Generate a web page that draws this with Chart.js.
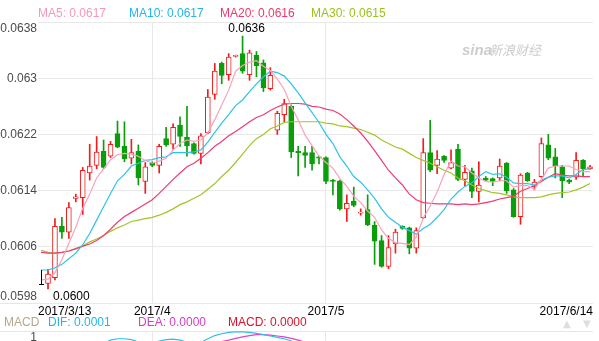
<!DOCTYPE html>
<html>
<head>
<meta charset="utf-8">
<script src="https://cdn.jsdelivr.net/npm/chart.js@4.4.0/dist/chart.umd.min.js"></script>
<style>
  html, body { margin: 0; padding: 0; background: #fff; overflow: hidden; }
  #wrap { position: relative; width: 599px; height: 341px; overflow: hidden; }
  #kline { position: absolute; left: 0; top: 0; }
  #macd { position: absolute; left: 0; top: 316px; }
</style>
</head>
<body>
<div id="wrap">
  <canvas id="kline" width="599" height="316"></canvas>
  <canvas id="macd" width="599" height="120"></canvas>
</div>
<script>
// daily candles, 2017/3/13 .. 2017/6/14 (index 0..78)
const openP = [0.06008,0.06016,0.06089,0.06081,0.06129,0.06130,0.06165,0.06176,0.06196,0.06189,
  0.06221,0.06203,0.06186,0.06196,0.06153,0.06179,0.06176,0.06214,0.06206,0.06233,
  0.06216,0.06207,0.06193,0.06222,0.06277,0.06321,0.06305,0.06331,0.06335,0.06305,
  0.06333,0.06322,0.06285,0.06226,0.06248,0.06260,0.06196,0.06194,0.06194,0.06188,
  0.06187,0.06155,0.06154,0.06114,0.06125,0.06108,0.06113,0.06091,0.06069,0.06032,
  0.06064,0.06089,0.06087,0.06058,0.06101,0.06194,0.06176,0.06189,0.06172,0.06199,
  0.06156,0.06168,0.06139,0.06158,0.06157,0.06158,0.06179,0.06141,0.06103,0.06165,
  0.06146,0.06160,0.06205,0.06188,0.06174,0.06155,0.06159,0.06183,0.06171];
const highP = [0.06028,0.06100,0.06102,0.06123,0.06135,0.06173,0.06206,0.06217,0.06212,0.06210,
  0.06239,0.06238,0.06213,0.06205,0.06180,0.06181,0.06206,0.06230,0.06235,0.06245,
  0.06260,0.06208,0.06221,0.06284,0.06321,0.06323,0.06335,0.06333,0.06360,0.06340,
  0.06338,0.06326,0.06315,0.06253,0.06270,0.06262,0.06203,0.06203,0.06203,0.06189,
  0.06188,0.06156,0.06155,0.06134,0.06145,0.06114,0.06134,0.06096,0.06076,0.06076,
  0.06085,0.06090,0.06088,0.06087,0.06214,0.06240,0.06197,0.06190,0.06198,0.06206,
  0.06176,0.06172,0.06181,0.06160,0.06158,0.06185,0.06180,0.06143,0.06164,0.06166,
  0.06156,0.06215,0.06220,0.06200,0.06176,0.06156,0.06194,0.06184,0.06176];
const lowP = [0.06000,0.06013,0.06072,0.06072,0.06124,0.06106,0.06155,0.06171,0.06171,0.06187,
  0.06201,0.06181,0.06178,0.06148,0.06136,0.06174,0.06165,0.06203,0.06199,0.06203,
  0.06189,0.06192,0.06178,0.06221,0.06270,0.06292,0.06297,0.06330,0.06307,0.06297,
  0.06302,0.06281,0.06283,0.06220,0.06238,0.06187,0.06161,0.06173,0.06169,0.06178,
  0.06150,0.06134,0.06112,0.06096,0.06117,0.06105,0.06090,0.06035,0.06031,0.06029,
  0.06051,0.06085,0.06050,0.06051,0.06100,0.06167,0.06164,0.06180,0.06171,0.06154,
  0.06147,0.06130,0.06124,0.06154,0.06147,0.06154,0.06136,0.06102,0.06092,0.06153,
  0.06141,0.06159,0.06184,0.06158,0.06130,0.06150,0.06156,0.06161,0.06170];
const closeP = [0.06021,0.06089,0.06081,0.06116,0.06131,0.06169,0.06175,0.06195,0.06173,0.06206,
  0.06202,0.06185,0.06194,0.06158,0.06174,0.06176,0.06203,0.06205,0.06230,0.06217,
  0.06204,0.06193,0.06218,0.06273,0.06310,0.06304,0.06330,0.06332,0.06310,0.06336,
  0.06318,0.06286,0.06304,0.06250,0.06264,0.06195,0.06194,0.06190,0.06178,0.06186,
  0.06153,0.06153,0.06114,0.06122,0.06119,0.06109,0.06091,0.06068,0.06032,0.06059,
  0.06081,0.06086,0.06058,0.06083,0.06194,0.06169,0.06185,0.06183,0.06180,0.06156,
  0.06166,0.06139,0.06148,0.06155,0.06153,0.06175,0.06140,0.06103,0.06162,0.06154,
  0.06152,0.06207,0.06186,0.06175,0.06154,0.06152,0.06183,0.06171,0.06174];

// moving averages, one extra point on the left (index -1 .. 78)
const ma5 = [0.06013,0.06014,0.06023,0.06042,0.06065,0.06088,0.06115,0.06135,0.06158,0.06171,
  0.06184,0.06191,0.06193,0.06192,0.06189,0.06183,0.06179,0.06182,0.06186,0.06198,
  0.06207,0.06212,0.06210,0.06212,0.06222,0.06241,0.06262,0.06283,0.06310,0.06318,
  0.06323,0.06325,0.06317,0.06311,0.06299,0.06284,0.06260,0.06241,0.06219,0.06204,
  0.06189,0.06180,0.06172,0.06157,0.06146,0.06132,0.06123,0.06111,0.06102,0.06084,
  0.06072,0.06066,0.06065,0.06063,0.06074,0.06101,0.06118,0.06138,0.06163,0.06182,
  0.06175,0.06174,0.06165,0.06158,0.06153,0.06152,0.06154,0.06154,0.06145,0.06147,
  0.06147,0.06142,0.06156,0.06172,0.06175,0.06175,0.06175,0.06170,0.06167,0.06167];
const ma10 = [0.06027,0.06027,0.06030,0.06035,0.06043,0.06051,0.06063,0.06079,0.06098,0.06117,
  0.06136,0.06154,0.06163,0.06175,0.06179,0.06183,0.06184,0.06187,0.06188,0.06194,
  0.06194,0.06194,0.06195,0.06198,0.06209,0.06223,0.06236,0.06248,0.06261,0.06269,
  0.06281,0.06292,0.06302,0.06310,0.06308,0.06303,0.06292,0.06279,0.06265,0.06251,
  0.06237,0.06220,0.06207,0.06188,0.06175,0.06160,0.06152,0.06141,0.06129,0.06114,
  0.06102,0.06095,0.06088,0.06083,0.06078,0.06086,0.06092,0.06102,0.06113,0.06128,
  0.06138,0.06146,0.06151,0.06160,0.06167,0.06163,0.06164,0.06159,0.06151,0.06150,
  0.06150,0.06148,0.06155,0.06159,0.06161,0.06161,0.06158,0.06163,0.06170,0.06171];
const ma20 = [0.06052,0.06051,0.06051,0.06052,0.06054,0.06057,0.06061,0.06064,0.06069,0.06076,
  0.06085,0.06095,0.06103,0.06109,0.06115,0.06121,0.06127,0.06136,0.06146,0.06156,
  0.06165,0.06174,0.06179,0.06186,0.06194,0.06203,0.06210,0.06218,0.06224,0.06231,
  0.06238,0.06244,0.06248,0.06254,0.06259,0.06263,0.06264,0.06264,0.06263,0.06260,
  0.06259,0.06256,0.06254,0.06249,0.06241,0.06232,0.06222,0.06210,0.06197,0.06183,
  0.06169,0.06158,0.06148,0.06135,0.06127,0.06123,0.06122,0.06121,0.06121,0.06121,
  0.06120,0.06121,0.06120,0.06121,0.06123,0.06125,0.06128,0.06130,0.06132,0.06139,
  0.06143,0.06147,0.06153,0.06159,0.06164,0.06162,0.06161,0.06161,0.06160,0.06160];
const ma30 = [0.06055,0.06052,0.06051,0.06052,0.06054,0.06058,0.06061,0.06067,0.06071,0.06076,
  0.06082,0.06087,0.06091,0.06096,0.06098,0.06100,0.06102,0.06105,0.06109,0.06114,
  0.06120,0.06124,0.06129,0.06134,0.06142,0.06150,0.06160,0.06169,0.06180,0.06192,
  0.06204,0.06214,0.06220,0.06228,0.06232,0.06237,0.06238,0.06238,0.06238,0.06238,
  0.06238,0.06236,0.06235,0.06232,0.06231,0.06229,0.06227,0.06223,0.06219,0.06212,
  0.06207,0.06202,0.06199,0.06193,0.06187,0.06183,0.06179,0.06174,0.06169,0.06165,
  0.06158,0.06154,0.06148,0.06143,0.06140,0.06137,0.06136,0.06134,0.06131,0.06130,
  0.06130,0.06130,0.06131,0.06134,0.06136,0.06137,0.06138,0.06141,0.06145,0.06150];

// MACD panel, in units of 0.0001 (index -1 .. 78)
const dif = [-0.90,-0.85,-0.70,-0.55,-0.35,-0.10,0.15,0.40,0.60,0.72,
  0.80,0.83,0.83,0.81,0.76,0.72,0.73,0.78,0.81,0.82,
  0.80,0.75,0.72,0.75,0.83,0.90,0.94,0.97,0.98,0.98,
  0.97,0.95,0.92,0.89,0.86,0.83,0.78,0.70,0.60,0.48,
  0.35,0.20,0.05,-0.12,-0.28,-0.42,-0.55,-0.68,-0.82,-0.98,
  -1.08,-1.12,-1.13,-1.14,-1.10,-0.95,-0.80,-0.65,-0.50,-0.36,
  -0.27,-0.20,-0.15,-0.10,-0.06,-0.03,0.00,0.02,-0.02,0.00,
  0.02,0.03,0.12,0.20,0.27,0.30,0.33,0.40,0.48,0.55];
const dea = [-0.60,-0.65,-0.66,-0.64,-0.58,-0.49,-0.36,-0.20,-0.04,0.11,
  0.25,0.37,0.46,0.53,0.58,0.61,0.63,0.66,0.68,0.70,
  0.71,0.71,0.71,0.72,0.73,0.75,0.77,0.80,0.84,0.87,
  0.90,0.92,0.92,0.91,0.89,0.87,0.84,0.80,0.75,0.69,
  0.62,0.54,0.44,0.33,0.21,0.08,-0.05,-0.18,-0.31,-0.44,
  -0.57,-0.68,-0.77,-0.85,-0.90,-0.91,-0.89,-0.84,-0.77,-0.69,
  -0.60,-0.52,-0.45,-0.38,-0.32,-0.26,-0.21,-0.16,-0.13,-0.10,
  -0.08,-0.05,-0.02,0.02,0.07,0.11,0.16,0.20,0.26,0.32];
const macdNow = 0.46;

const xTickIdx = [0, 15, 40, 78];
const xTickText = ['2017/3/13', '2017/4', '2017/5', '2017/6/14'];
const yTicks = [0.0598, 0.0606, 0.0614, 0.0622, 0.063, 0.0638];
const xMin = -1.44, xMax = 78.43;

const fam = 'Arial, "Liberation Sans", sans-serif';
Chart.defaults.font.family = fam;
Chart.defaults.font.size = 12;

const red = '#f21c1c', green = '#0a9e0a';
const maNames = ['MA5', 'MA10', 'MA20', 'MA30'];
const maSeries = [ma5, ma10, ma20, ma30];
const maLine = ['#f8a2bc', '#2cc3e7', '#ee3c72', '#a2c52a'];
const maText = ['#f59ab4', '#22b7e6', '#f0386b', '#9cc21c'];

const idx = closeP.map((_, i) => i);
const isUp = i => closeP[i] >= openP[i];
const pts = arr => arr.map((v, i) => ({ x: i - 1, y: v }));

function buildXTicks(s) {
  const n = xTickIdx.length;
  s.ticks = xTickIdx.map((v, i) => ({ value: i === 0 ? s.min : (i === n - 1 ? s.max : v) }));
}
const xGridColor = c => (c.index === 0 || c.index === xTickIdx.length - 1) ? 'rgba(0,0,0,0)' : '#e8e8e8';

const kPaint = {
  id: 'kPaint',
  afterDraw(chart) {
    const { ctx, chartArea: a, scales: { x, y } } = chart;
    ctx.save();
    // x axis line runs under the y labels too
    const by = Math.round(a.bottom - 0.5) + 0.5;
    ctx.strokeStyle = '#e6e6e6';
    ctx.lineWidth = 1;
    ctx.beginPath(); ctx.moveTo(0, by); ctx.lineTo(a.left, by); ctx.stroke();

    // legend
    ctx.font = '12px ' + fam;
    ctx.textAlign = 'left';
    ctx.textBaseline = 'middle';
    maNames.forEach((n, k) => {
      const s = maSeries[k];
      ctx.fillStyle = maText[k];
      ctx.fillText(n + ': ' + s[s.length - 1].toFixed(4), a.left + k * 91, 14);
    });

    // y labels, kept inside the plot at both ends
    ctx.fillStyle = '#4a4a4a';
    ctx.textAlign = 'right';
    yTicks.forEach(v => {
      const py = y.getPixelForValue(v);
      if (py - a.top < 6) { ctx.textBaseline = 'top'; ctx.fillText(String(v), a.left - 1, py + 1); }
      else if (a.bottom - py < 6) { ctx.textBaseline = 'alphabetic'; ctx.fillText(String(v), a.left - 1, py - 3); }
      else { ctx.textBaseline = 'middle'; ctx.fillText(String(v), a.left - 1, py); }
    });

    // highest / lowest marks
    let hi = 0, lo = 0;
    idx.forEach(i => { if (highP[i] > highP[hi]) hi = i; if (lowP[i] < lowP[lo]) lo = i; });
    ctx.fillStyle = '#000';
    ctx.textAlign = 'center';
    ctx.textBaseline = 'alphabetic';
    ctx.fillText(highP[hi].toFixed(4), x.getPixelForValue(hi) + 4, y.getPixelForValue(highP[hi]) - 4);
    const lx = x.getPixelForValue(lo), ly = y.getPixelForValue(lowP[lo]);
    ctx.textAlign = 'left';
    ctx.fillText(lowP[lo].toFixed(4), lx + 5, ly + 11);
    ctx.strokeStyle = '#000';
    ctx.beginPath();
    ctx.moveTo(Math.round(lx - 7) + 0.5, ly - 19); ctx.lineTo(Math.round(lx - 7) + 0.5, ly - 4);
    ctx.moveTo(lx - 9, Math.round(ly - 5) + 0.5); ctx.lineTo(lx - 4, Math.round(ly - 5) + 0.5);
    ctx.stroke();

    // watermark
    ctx.fillStyle = '#cdcdcd';
    ctx.textAlign = 'left';
    ctx.font = 'italic bold 15px ' + fam;
    ctx.fillText('sina', 462, 55);
    ctx.font = 'italic 13px "Noto Sans CJK SC", sans-serif';
    ctx.fillText('新浪财经', 489, 55);
    ctx.restore();
  }
};

new Chart(document.getElementById('kline'), {
  type: 'bar',
  data: {
    datasets: [
      {
        type: 'line', data: pts(ma5), borderColor: maLine[0], borderWidth: 1.2,
        pointRadius: 0, order: 0
      },
      {
        type: 'line', data: pts(ma10), borderColor: maLine[1], borderWidth: 1.2,
        pointRadius: 0, order: 0
      },
      {
        type: 'line', data: pts(ma20), borderColor: maLine[2], borderWidth: 1.2,
        pointRadius: 0, order: 0
      },
      {
        type: 'line', data: pts(ma30), borderColor: maLine[3], borderWidth: 1.2,
        pointRadius: 0, order: 0
      },
      {
        // bodies
        data: idx.map(i => ({ x: i, y: [Math.min(openP[i], closeP[i]), Math.max(openP[i], closeP[i])] })),
        backgroundColor: idx.map(i => isUp(i) ? '#ffffff' : green),
        borderColor: idx.map(i => isUp(i) ? red : green),
        borderWidth: 1, borderSkipped: false, barThickness: 5, minBarLength: 1,
        grouped: false, order: 1
      },
      {
        // wicks
        data: idx.map(i => ({ x: i, y: [lowP[i], highP[i]] })),
        backgroundColor: idx.map(i => isUp(i) ? red : green),
        borderWidth: 0, barThickness: 1, grouped: false, order: 2
      }
    ]
  },
  options: {
    responsive: false,
    animation: false,
    devicePixelRatio: 1,
    layout: { padding: { top: 22, right: 6, left: 0, bottom: 0 } },
    plugins: { legend: { display: false }, tooltip: { enabled: false } },
    scales: {
      x: {
        type: 'linear', min: xMin, max: xMax, offset: false,
        afterBuildTicks: buildXTicks,
        afterFit: s => { s.height = 13; },
        ticks: {
          autoSkip: false, maxRotation: 0, align: 'inner', padding: 1, color: '#000',
          callback: (v, i) => xTickText[i]
        },
        grid: { drawTicks: false, offset: false, color: xGridColor },
        border: { display: false }
      },
      y: {
        min: 0.0598, max: 0.0638,
        afterBuildTicks: s => { s.ticks = yTicks.map(v => ({ value: v })); },
        afterFit: s => { s.width = 38; },
        ticks: { display: false },
        grid: { drawTicks: false, color: '#e9e9e9' },
        border: { display: false }
      }
    }
  },
  plugins: [kPaint]
});

const macdPaint = {
  id: 'macdPaint',
  afterDraw(chart) {
    const { ctx, chartArea: a, scales: { y } } = chart;
    ctx.save();
    const ty = Math.round(y.getPixelForValue(1) - 0.5) + 0.5;
    ctx.strokeStyle = '#e6e6e6';
    ctx.beginPath(); ctx.moveTo(0, ty); ctx.lineTo(a.left, ty); ctx.stroke();

    ctx.font = '12px ' + fam;
    ctx.textBaseline = 'middle';
    ctx.textAlign = 'left';
    const head = [
      ['MACD', '#b4a68e'],
      ['DIF: ' + (dif[dif.length - 1] / 10000).toFixed(4), '#22b7e6'],
      ['DEA: ' + (dea[dea.length - 1] / 10000).toFixed(4), '#d63cc4'],
      ['MACD: ' + (macdNow / 10000).toFixed(4), '#e0102a']
    ];
    ctx.fillStyle = head[0][1];
    ctx.fillText(head[0][0], 4, 7);
    for (let k = 1; k < head.length; k++) {
      ctx.fillStyle = head[k][1];
      ctx.fillText(head[k][0], 48 + (k - 1) * 90, 7);
    }

    ctx.fillStyle = '#4a4a4a';
    ctx.textAlign = 'right';
    ctx.textBaseline = 'top';
    ctx.fillText('1', a.left - 1, y.getPixelForValue(1) + 1);

    ctx.fillStyle = '#dedede';
    ctx.font = '10px "DejaVu Sans", sans-serif';
    ctx.textAlign = 'left';
    ctx.textBaseline = 'middle';
    ctx.fillText('▲', 563, 8);
    ctx.fillText('▼', 583, 8);
    ctx.restore();
  }
};

new Chart(document.getElementById('macd'), {
  type: 'line',
  data: {
    datasets: [
      { data: pts(dif), borderColor: '#2dbfe9', borderWidth: 1.2, pointRadius: 0 },
      { data: pts(dea), borderColor: '#dc45c8', borderWidth: 1.2, pointRadius: 0 }
    ]
  },
  options: {
    responsive: false,
    animation: false,
    devicePixelRatio: 1,
    layout: { padding: { top: 15, right: 6, left: 0, bottom: 0 } },
    plugins: { legend: { display: false }, tooltip: { enabled: false } },
    scales: {
      x: {
        type: 'linear', min: xMin, max: xMax, offset: false,
        afterBuildTicks: buildXTicks,
        afterFit: s => { s.height = 0; },
        ticks: { display: false },
        grid: { drawTicks: false, offset: false, color: xGridColor },
        border: { display: false }
      },
      y: {
        min: -1.3, max: 1,
        afterBuildTicks: s => { s.ticks = [{ value: 1 }]; },
        afterFit: s => { s.width = 38; },
        ticks: { display: false },
        grid: { drawTicks: false, color: '#e6e6e6' },
        border: { display: false }
      }
    }
  },
  plugins: [macdPaint]
});
</script>
</body>
</html>
